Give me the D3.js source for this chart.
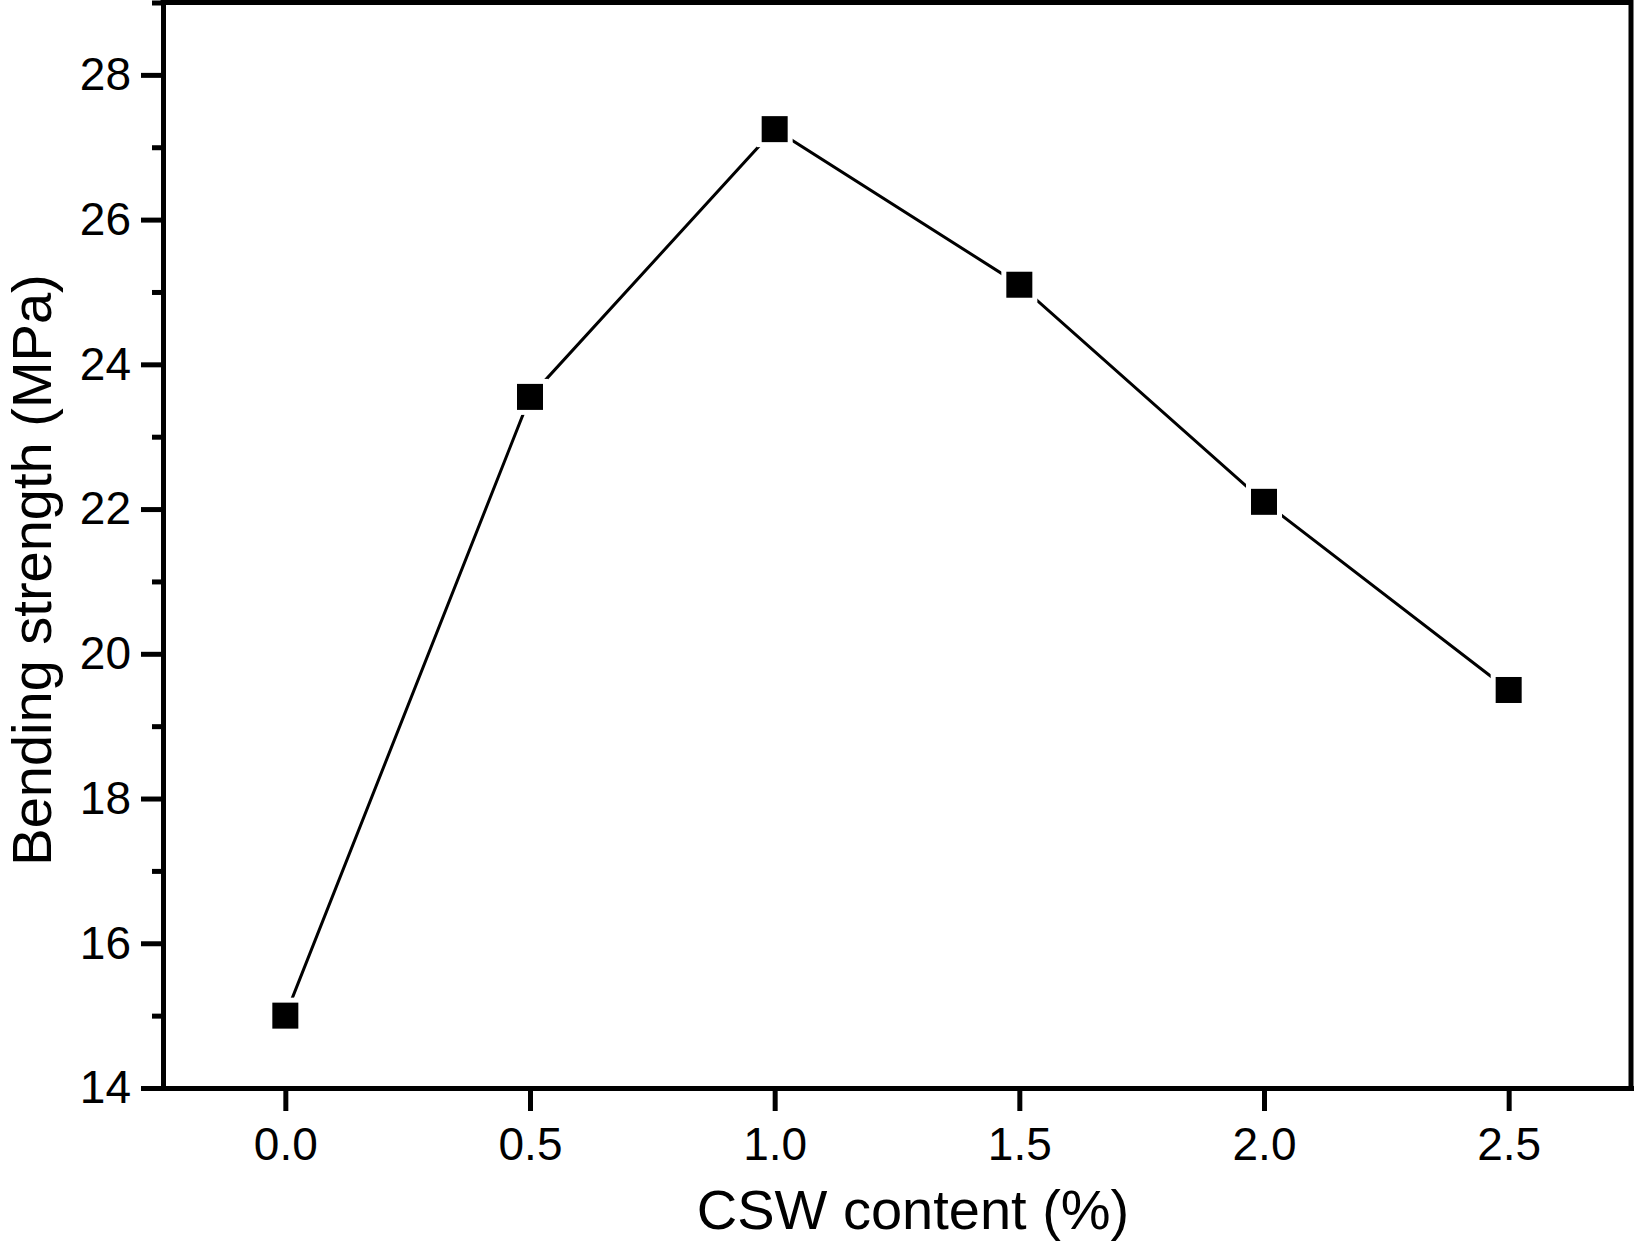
<!DOCTYPE html>
<html>
<head>
<meta charset="utf-8">
<script src="https://cdn.jsdelivr.net/npm/d3@7"></script>
<style>
  body { margin: 0; background: #fff; }
  svg { display: block; }
  text { font-family: "Liberation Sans", Arial, Helvetica, sans-serif; fill: #000; }
</style>
</head>
<body>
<svg id="chart"></svg>
<script>
// data
var cswContent = [0.0, 0.5, 1.0, 1.5, 2.0, 2.5];
var bendingStrength = [15.0, 23.55, 27.25, 25.1, 22.1, 19.5];
var xTicks = [0.0, 0.5, 1.0, 1.5, 2.0, 2.5];
var yTicks = [14, 16, 18, 20, 22, 24, 26, 28];
var yMinorTicks = [15, 17, 19, 21, 23, 25, 27, 29];

var width = 1634, height = 1242;
var margin = {top: 2.5, right: 3, bottom: 154, left: 163};

var svg = d3.select('#chart').attr('width', width).attr('height', height);

var x = d3.scaleLinear().domain([-0.25, 2.75]).range([margin.left, width - margin.right]);
var y = d3.scaleLinear().domain([14, 29]).range([height - margin.bottom, margin.top]);

var data = cswContent.map((d, i) => ({x: d, y: bendingStrength[i]}));

// frame (top + right)
svg.append('path')
    .attr('d', 'M' + x(-0.25) + ',' + y(29) + 'H' + x(2.75) + 'V' + y(14))
    .attr('fill', 'none')
    .attr('stroke', '#000')
    .attr('stroke-width', 5)
    .attr('stroke-linecap', 'square');

// minor y ticks
var yMinor = svg.append('g')
    .attr('transform', 'translate(' + margin.left + ',0)')
    .call(d3.axisLeft(y).tickValues(yMinorTicks).tickSize(11).tickSizeOuter(0).tickFormat(''));

// main y axis
var yAxis = svg.append('g')
    .attr('transform', 'translate(' + margin.left + ',0)')
    .call(d3.axisLeft(y).tickValues(yTicks).tickSizeInner(22).tickSizeOuter(0)
      .tickPadding(10).tickFormat(d3.format('d')));

// x axis
var xAxis = svg.append('g')
    .attr('transform', 'translate(0,' + y(14) + ')')
    .call(d3.axisBottom(x).tickValues(xTicks).tickSizeInner(23).tickSizeOuter(0)
      .tickPadding(16).tickFormat(d3.format('.1f')));

[yMinor, yAxis, xAxis].forEach(function (g) {
  g.select('.domain').attr('stroke-width', 5).attr('stroke-linecap', 'square');
  g.selectAll('.tick line').attr('stroke-width', 5);
  g.selectAll('.tick text').attr('font-size', 46).attr('font-family', '"Liberation Sans", Arial, sans-serif');
});
yMinor.select('.domain').remove();

// line
var line = d3.line().x(d => x(d.x)).y(d => y(d.y));
svg.append('path')
    .datum(data)
    .attr('d', line)
    .attr('fill', 'none')
    .attr('stroke', '#000')
    .attr('stroke-width', 3);

// white halo so the line stops short of each marker
svg.append('g').selectAll('rect')
    .data(data)
    .enter()
    .append('rect')
    .attr('x', d => x(d.x) - 18)
    .attr('y', d => y(d.y) - 18)
    .attr('width', 36)
    .attr('height', 36)
    .attr('fill', '#fff');

svg.append('g').selectAll('rect')
    .data(data)
    .enter()
    .append('rect')
    .attr('x', d => x(d.x) - 13)
    .attr('y', d => y(d.y) - 13)
    .attr('width', 26)
    .attr('height', 26)
    .attr('fill', '#000');

// axis titles
svg.append('text')
    .attr('x', 913)
    .attr('y', 1229)
    .attr('text-anchor', 'middle')
    .attr('font-size', 56)
    .text('CSW content (%)');

svg.append('text')
    .attr('transform', 'translate(51,570) rotate(-90)')
    .attr('text-anchor', 'middle')
    .attr('font-size', 56)
    .text('Bending strength (MPa)');
</script>
</body>
</html>
